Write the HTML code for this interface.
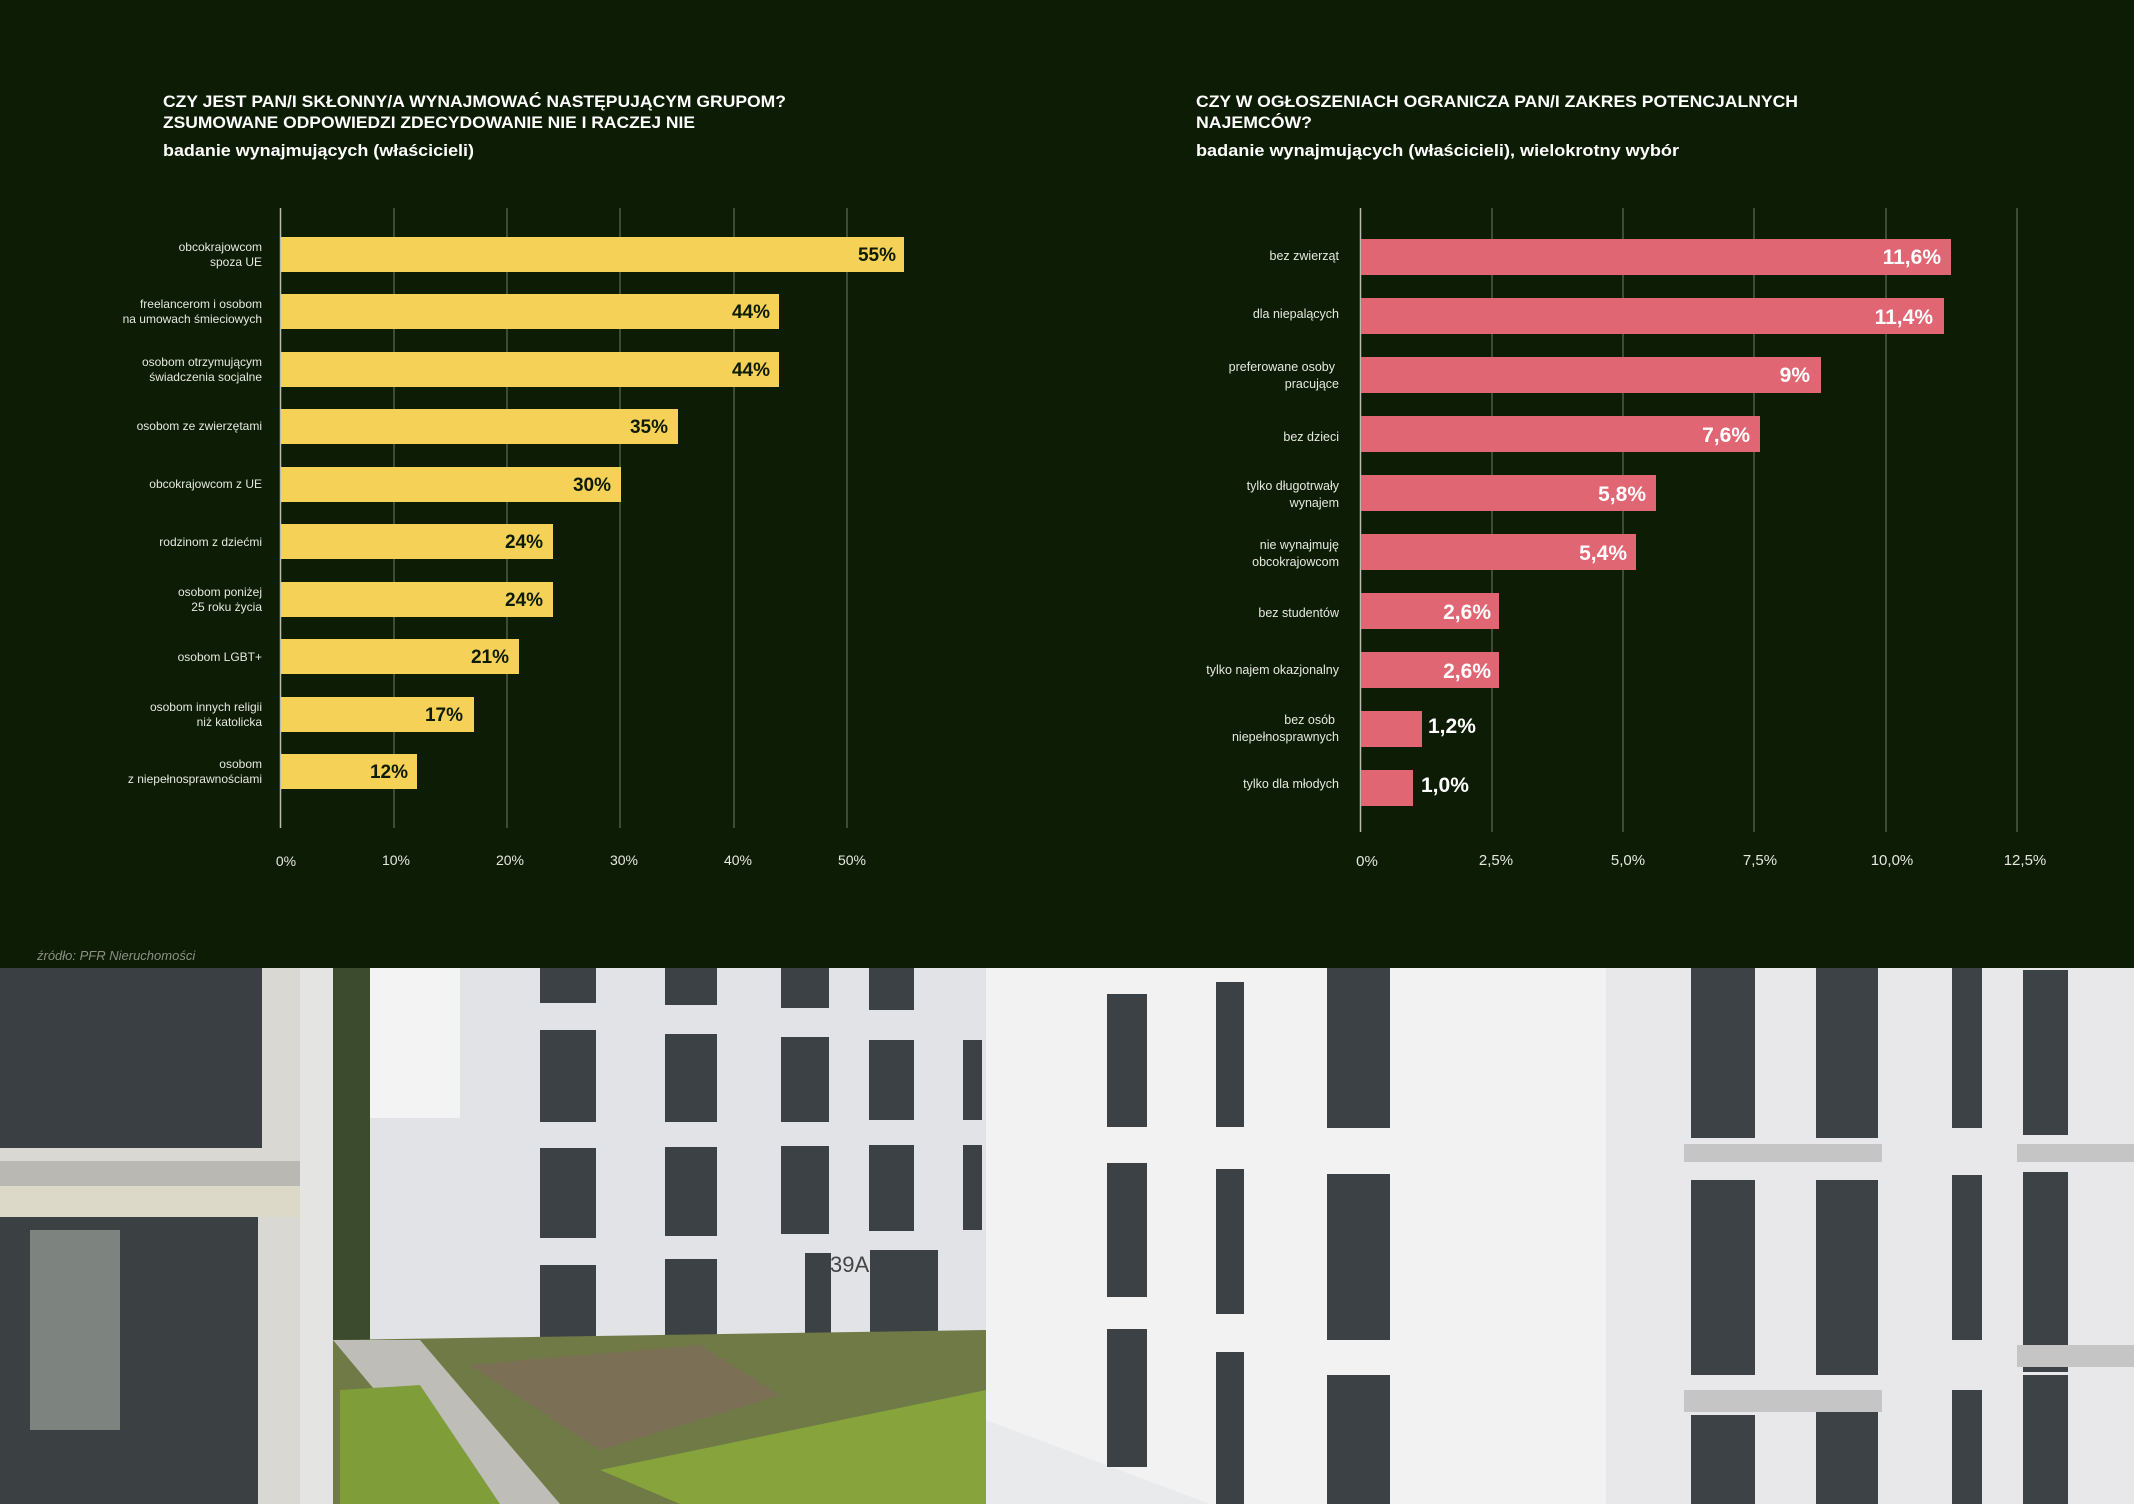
<!DOCTYPE html>
<html><head><meta charset="utf-8"><style>
html,body{margin:0;padding:0;background:#0d1c04;}
svg{display:block}
</style></head><body>
<svg width="2134" height="1504" viewBox="0 0 2134 1504" xmlns="http://www.w3.org/2000/svg" font-family="Liberation Sans, DejaVu Sans, sans-serif">
<rect width="2134" height="1504" fill="#0d1c04"/>
<!-- LEFT CHART -->
<g fill="#fff" font-weight="bold">
<text x="163" y="107" font-size="17" textLength="623" lengthAdjust="spacingAndGlyphs">CZY JEST PAN/I SKŁONNY/A WYNAJMOWAĆ NASTĘPUJĄCYM GRUPOM?</text>
<text x="163" y="128" font-size="17" textLength="532" lengthAdjust="spacingAndGlyphs">ZSUMOWANE ODPOWIEDZI ZDECYDOWANIE NIE I RACZEJ NIE</text>
<text x="163" y="156" font-size="17" textLength="311" lengthAdjust="spacingAndGlyphs">badanie wynajmujących (właścicieli)</text>
</g>
<g stroke="#6f7a66" stroke-width="1">
<line x1="394" y1="208" x2="394" y2="828"/><line x1="507" y1="208" x2="507" y2="828"/>
<line x1="620" y1="208" x2="620" y2="828"/><line x1="734" y1="208" x2="734" y2="828"/>
<line x1="847" y1="208" x2="847" y2="828"/>
</g>
<line x1="280.5" y1="208" x2="280.5" y2="828" stroke="#b8bdb2" stroke-width="1.5"/>
<g fill="#f6d157">
<rect x="281" y="237" width="623" height="35"/>
<rect x="281" y="294" width="498" height="35"/>
<rect x="281" y="352" width="498" height="35"/>
<rect x="281" y="409" width="397" height="35"/>
<rect x="281" y="467" width="340" height="35"/>
<rect x="281" y="524" width="272" height="35"/>
<rect x="281" y="582" width="272" height="35"/>
<rect x="281" y="639" width="238" height="35"/>
<rect x="281" y="697" width="193" height="35"/>
<rect x="281" y="754" width="136" height="35"/>
</g>
<g fill="#0d1c04" font-weight="bold" font-size="19" text-anchor="end">
<text x="896" y="261">55%</text><text x="770" y="318">44%</text><text x="770" y="376">44%</text>
<text x="668" y="433">35%</text><text x="611" y="491">30%</text><text x="543" y="548">24%</text>
<text x="543" y="606">24%</text><text x="509" y="663">21%</text><text x="463" y="721">17%</text>
<text x="408" y="778">12%</text>
</g>
<g fill="#e6e8e2" font-size="12" text-anchor="end">
<text x="262" y="251">obcokrajowcom</text><text x="262" y="266">spoza UE</text>
<text x="262" y="308">freelancerom i osobom</text><text x="262" y="323">na umowach śmieciowych</text>
<text x="262" y="366">osobom otrzymującym</text><text x="262" y="381">świadczenia socjalne</text>
<text x="262" y="430">osobom ze zwierzętami</text>
<text x="262" y="488">obcokrajowcom z UE</text>
<text x="262" y="546">rodzinom z dziećmi</text>
<text x="262" y="596">osobom poniżej</text><text x="262" y="611">25 roku życia</text>
<text x="262" y="661">osobom LGBT+</text>
<text x="262" y="711">osobom innych religii</text><text x="262" y="726">niż katolicka</text>
<text x="262" y="768">osobom</text><text x="262" y="783">z niepełnosprawnościami</text>
</g>
<g fill="#e6e8e2" font-size="14" text-anchor="middle">
<text x="286" y="866">0%</text><text x="396" y="865">10%</text><text x="510" y="865">20%</text>
<text x="624" y="865">30%</text><text x="738" y="865">40%</text><text x="852" y="865">50%</text>
</g>
<!-- RIGHT CHART -->
<g fill="#fff" font-weight="bold">
<text x="1196" y="107" font-size="17" textLength="602" lengthAdjust="spacingAndGlyphs">CZY W OGŁOSZENIACH OGRANICZA PAN/I ZAKRES POTENCJALNYCH</text>
<text x="1196" y="128" font-size="17" textLength="116" lengthAdjust="spacingAndGlyphs">NAJEMCÓW?</text>
<text x="1196" y="156" font-size="17" textLength="483" lengthAdjust="spacingAndGlyphs">badanie wynajmujących (właścicieli), wielokrotny wybór</text>
</g>
<g stroke="#6f7a66" stroke-width="1">
<line x1="1492" y1="208" x2="1492" y2="832"/><line x1="1623" y1="208" x2="1623" y2="832"/>
<line x1="1754" y1="208" x2="1754" y2="832"/><line x1="1886" y1="208" x2="1886" y2="832"/>
<line x1="2017" y1="208" x2="2017" y2="832"/>
</g>
<line x1="1360.5" y1="208" x2="1360.5" y2="832" stroke="#b8bdb2" stroke-width="1.5"/>
<g fill="#e06673">
<rect x="1361" y="239" width="590" height="36"/>
<rect x="1361" y="298" width="583" height="36"/>
<rect x="1361" y="357" width="460" height="36"/>
<rect x="1361" y="416" width="399" height="36"/>
<rect x="1361" y="475" width="295" height="36"/>
<rect x="1361" y="534" width="275" height="36"/>
<rect x="1361" y="593" width="138" height="36"/>
<rect x="1361" y="652" width="138" height="36"/>
<rect x="1361" y="711" width="61" height="36"/>
<rect x="1361" y="770" width="52" height="36"/>
</g>
<g fill="#fff" font-weight="bold" font-size="21" text-anchor="end">
<text x="1941" y="264">11,6%</text><text x="1933" y="324">11,4%</text><text x="1810" y="382">9%</text>
<text x="1750" y="442">7,6%</text><text x="1646" y="501">5,8%</text><text x="1627" y="560">5,4%</text>
<text x="1491" y="619">2,6%</text><text x="1491" y="678">2,6%</text>
</g>
<g fill="#fff" font-weight="bold" font-size="21">
<text x="1428" y="733">1,2%</text><text x="1421" y="792">1,0%</text>
</g>
<g fill="#e6e8e2" font-size="12.5" text-anchor="end">
<text x="1339" y="260">bez zwierząt</text>
<text x="1339" y="318">dla niepalących</text>
<text x="1335" y="371">preferowane osoby</text><text x="1339" y="388">pracujące</text>
<text x="1339" y="441">bez dzieci</text>
<text x="1339" y="490">tylko długotrwały</text><text x="1339" y="507">wynajem</text>
<text x="1339" y="549">nie wynajmuję</text><text x="1339" y="566">obcokrajowcom</text>
<text x="1339" y="617">bez studentów</text>
<text x="1339" y="674">tylko najem okazjonalny</text>
<text x="1335" y="724">bez osób</text><text x="1339" y="741">niepełnosprawnych</text>
<text x="1339" y="788">tylko dla młodych</text>
</g>
<g fill="#e6e8e2" font-size="15" text-anchor="middle">
<text x="1367" y="866">0%</text><text x="1496" y="865">2,5%</text><text x="1628" y="865">5,0%</text>
<text x="1760" y="865">7,5%</text><text x="1892" y="865">10,0%</text><text x="2025" y="865">12,5%</text>
</g>
<text x="37" y="960" fill="#8a9086" font-size="13" font-style="italic">źródło: PFR Nieruchomości</text>
<!-- PHOTO -->
<g>
<rect x="0" y="968" width="2134" height="536" fill="#e9eaec"/>
<!-- left building -->
<rect x="0" y="968" width="333" height="536" fill="#d9d8d2"/>
<rect x="0" y="968" width="262" height="180" fill="#3a3f44"/>
<rect x="0" y="1161" width="330" height="25" fill="#b9b8b2"/>
<rect x="0" y="1186" width="333" height="31" fill="#dcd9c8"/>
<rect x="0" y="1217" width="258" height="287" fill="#3b4043"/>
<rect x="30" y="1230" width="90" height="200" fill="#7d8480"/>
<rect x="300" y="968" width="33" height="536" fill="#e4e4e2"/>
<!-- trees -->
<rect x="333" y="968" width="37" height="405" fill="#3c4a2e"/>
<!-- middle building -->
<rect x="370" y="968" width="616" height="400" fill="#e2e3e6"/>
<rect x="370" y="968" width="90" height="150" fill="#f3f3f3"/>
<g fill="#3b4144">
<rect x="540" y="968" width="56" height="35"/><rect x="665" y="968" width="52" height="37"/><rect x="781" y="968" width="48" height="40"/><rect x="869" y="968" width="45" height="42"/>
<rect x="540" y="1030" width="56" height="92"/><rect x="665" y="1034" width="52" height="88"/><rect x="781" y="1037" width="48" height="85"/><rect x="869" y="1040" width="45" height="80"/>
<rect x="540" y="1148" width="56" height="90"/><rect x="665" y="1147" width="52" height="89"/><rect x="781" y="1146" width="48" height="88"/><rect x="869" y="1145" width="45" height="86"/>
<rect x="540" y="1265" width="56" height="92"/><rect x="665" y="1259" width="52" height="92"/><rect x="805" y="1253" width="26" height="85"/><rect x="870" y="1250" width="68" height="92"/>
<rect x="963" y="1040" width="19" height="80"/><rect x="963" y="1145" width="19" height="85"/>
</g>
<text x="830" y="1272" font-size="22" fill="#444">39A</text>
<!-- courtyard -->
<polygon points="333,1340 986,1330 986,1504 333,1504" fill="#6f7a46"/>
<polygon points="333,1340 420,1340 560,1504 470,1504" fill="#bfbdb8"/>
<polygon points="470,1365 700,1345 780,1395 600,1450" fill="#7b6f55"/>
<polygon points="600,1470 986,1390 986,1504 680,1504" fill="#86a33c"/>
<polygon points="340,1390 420,1385 500,1504 340,1504" fill="#7f9e3a"/>
<!-- right bright building -->
<polygon points="986,968 1606,968 1606,1504 1210,1504 986,1420" fill="#f2f2f3"/>
<g fill="#3b4144">
<rect x="1107" y="994" width="40" height="133"/><rect x="1107" y="1163" width="40" height="134"/><rect x="1107" y="1329" width="40" height="138"/>
<rect x="1216" y="982" width="28" height="145"/><rect x="1216" y="1169" width="28" height="145"/><rect x="1216" y="1352" width="28" height="152"/>
<rect x="1327" y="968" width="63" height="160"/><rect x="1327" y="1174" width="63" height="166"/><rect x="1327" y="1375" width="63" height="129"/>
</g>
<!-- far right building -->
<rect x="1606" y="968" width="528" height="536" fill="#e8e8ea"/>
<g fill="#3c4245">
<rect x="1691" y="968" width="64" height="170"/><rect x="1816" y="968" width="62" height="170"/><rect x="1952" y="968" width="30" height="160"/><rect x="2023" y="970" width="45" height="165"/>
<rect x="1691" y="1180" width="64" height="195"/><rect x="1816" y="1180" width="62" height="195"/><rect x="1952" y="1175" width="30" height="165"/><rect x="2023" y="1172" width="45" height="200"/>
<rect x="1691" y="1415" width="64" height="89"/><rect x="1816" y="1410" width="62" height="94"/><rect x="1952" y="1390" width="30" height="114"/><rect x="2023" y="1375" width="45" height="129"/>
</g>
<g fill="#c4c5c4">
<rect x="1684" y="1144" width="198" height="18"/><rect x="2017" y="1144" width="117" height="18"/>
<rect x="1684" y="1390" width="198" height="22"/><rect x="2017" y="1345" width="117" height="22"/>
</g>
</g>
</svg>
</body></html>
